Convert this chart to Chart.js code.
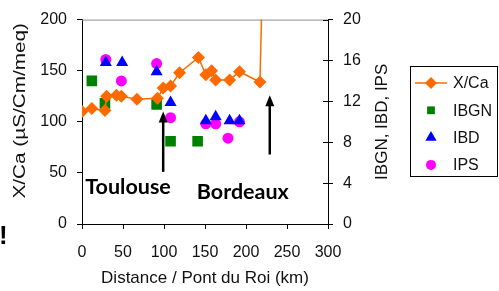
<!DOCTYPE html>
<html>
<head>
<meta charset="utf-8">
<script src="https://cdn.jsdelivr.net/npm/chart.js@4.4.1/dist/chart.umd.min.js"></script>
<style>
html, body { margin: 0; padding: 0; background: #fff; }
canvas { display: block; }
</style>
</head>
<body>
<canvas id="chart" width="499" height="291"></canvas>
<script>
// X/Ca along the river (left axis), last point runs off the top
const xcaDist = [0, 12, 28, 30, 42, 48, 67, 92, 99, 108, 119, 142, 151, 158, 163, 180, 192, 217, 225];
const xcaVal = [110, 113, 111, 125, 126, 125, 122, 123, 133, 135, 148, 163, 146, 150, 141, 141, 149, 139, 400];

// biological indices (right axis)
const ibgnDist = [12, 28, 91, 108, 141];
const ibgnVal = [14.0, 11.8, 11.7, 8.1, 8.1];
const ibdDist = [29, 49, 91, 108, 151, 163, 180, 192];
const ibdVal = [15.8, 15.8, 14.9, 11.9, 10.1, 10.5, 10.1, 10.1];
const ipsDist = [29, 48, 91, 108, 151, 163, 178, 192];
const ipsVal = [16.1, 14.0, 15.7, 10.4, 9.8, 9.8, 8.4, 10.0];

const xTicks = [0, 50, 100, 150, 200, 250, 300];
const leftTicks = [0, 50, 100, 150, 200];
const rightTicks = [0, 4, 8, 12, 16, 20];

// annotations, in data units (x km, left axis)
const arrows = [{x: 99, from: 51, to: 110}, {x: 229, from: 68, to: 126}];
const cities = [{text: 'Toulouse', x: 4, y: 29}, {text: 'Bordeaux', x: 140, y: 24}];

const FONT = "'Liberation Sans', Arial, sans-serif";

function pts(xs, ys) {
    return xs.map(function (x, i) { return {x: x, y: ys[i]}; });
}

const extras = {
    id: 'extras',
    afterDatasetsDraw: function (chart) {
        const ctx = chart.ctx;
        const xs = chart.scales.x, ys = chart.scales.y;
        const area = chart.chartArea;
        ctx.save();
        // top frame line
        ctx.strokeStyle = '#8c8c8c';
        ctx.lineWidth = 1;
        ctx.beginPath();
        ctx.moveTo(area.left, area.top + 0.5);
        ctx.lineTo(area.right, area.top + 0.5);
        ctx.stroke();
        // inner half of right axis ticks
        ctx.strokeStyle = '#000';
        chart.scales.y1.ticks.forEach(function (t) {
            const py = Math.round(chart.scales.y1.getPixelForValue(t.value)) + 0.5;
            ctx.beginPath();
            ctx.moveTo(area.right - 5, py);
            ctx.lineTo(area.right, py);
            ctx.stroke();
        });
        // arrows
        ctx.fillStyle = '#000';
        arrows.forEach(function (a) {
            const px = xs.getPixelForValue(a.x);
            const y0 = ys.getPixelForValue(a.from);
            const y1 = ys.getPixelForValue(a.to);
            ctx.lineWidth = 2.5;
            ctx.beginPath();
            ctx.moveTo(px, y0);
            ctx.lineTo(px, y1 + 8);
            ctx.stroke();
            ctx.beginPath();
            ctx.moveTo(px, y1);
            ctx.lineTo(px - 4.5, y1 + 11);
            ctx.lineTo(px + 4.5, y1 + 11);
            ctx.closePath();
            ctx.fill();
        });
        // city names
        ctx.font = "bold 21.5px Lato, 'Open Sans', sans-serif";
        ctx.textBaseline = 'alphabetic';
        ctx.textAlign = 'left';
        cities.forEach(function (c) {
            ctx.fillText(c.text, xs.getPixelForValue(c.x), ys.getPixelForValue(c.y));
        });
        // stray character at the left edge
        ctx.font = 'bold 26px ' + FONT;
        ctx.fillText('!', -1, 244);

        // axis titles (both read bottom to top)
        const midY = (area.top + area.bottom) / 2;
        ctx.font = '17px ' + FONT;
        ctx.fillStyle = '#111';
        ctx.textAlign = 'center';
        ctx.textBaseline = 'middle';
        [[20, midY - 11, 1.22, 'X/Ca (\u00b5S/Cm/meq)'], [382, midY, 1, 'IBGN, IBD, IPS']].forEach(function (t) {
            ctx.save();
            ctx.translate(t[0], t[1]);
            ctx.rotate(-Math.PI / 2);
            ctx.scale(t[2], 1);
            ctx.fillText(t[3], 0, 0);
            ctx.restore();
        });

        // legend box
        ctx.strokeStyle = '#000';
        ctx.lineWidth = 1;
        ctx.strokeRect(410.5, 66.5, 87, 110);
        ctx.font = '16px ' + FONT;
        ctx.textAlign = 'left';
        ctx.textBaseline = 'middle';
        const legendR = [6, 5.5, 6.5, 5];
        chart.data.datasets.forEach(function (ds, i) {
            const cy = 83 + i * 27.3;
            if (ds.showLine) {
                ctx.strokeStyle = ds.borderColor;
                ctx.lineWidth = 1.5;
                ctx.beginPath();
                ctx.moveTo(415, cy);
                ctx.lineTo(447, cy);
                ctx.stroke();
            }
            ctx.fillStyle = ds.pointBackgroundColor;
            Chart.helpers.drawPoint(ctx, {pointStyle: ds.pointStyle, radius: legendR[i], rotation: 0, borderWidth: 0}, 431, cy);
            ctx.fillStyle = '#111';
            ctx.fillText(ds.label, 453, cy + 1);
        });
        ctx.restore();
    }
};

const tickFont = {family: FONT, size: 16};

new Chart(document.getElementById('chart').getContext('2d'), {
    type: 'scatter',
    data: {
        datasets: [{
            label: 'X/Ca',
            data: pts(xcaDist, xcaVal),
            yAxisID: 'y',
            showLine: true,
            borderColor: '#ff6a00',
            borderWidth: 1.5,
            pointStyle: 'rectRot',
            pointRadius: 6.5,
            pointBorderWidth: 0,
            pointBackgroundColor: '#ff6a00'
        }, {
            label: 'IBGN',
            data: pts(ibgnDist, ibgnVal),
            yAxisID: 'y1',
            pointStyle: 'rect',
            pointRadius: 7.5,
            pointBorderWidth: 0,
            pointBackgroundColor: '#008000'
        }, {
            label: 'IBD',
            data: pts(ibdDist, ibdVal),
            yAxisID: 'y1',
            pointStyle: 'triangle',
            pointRadius: 7,
            pointBorderWidth: 0,
            pointBackgroundColor: '#0000ff'
        }, {
            label: 'IPS',
            data: pts(ipsDist, ipsVal),
            yAxisID: 'y1',
            pointStyle: 'circle',
            pointRadius: 5.5,
            pointBorderWidth: 0,
            pointBackgroundColor: '#ff00ff'
        }]
    },
    options: {
        responsive: false,
        animation: false,
        devicePixelRatio: 1,
        layout: {padding: {top: 18, left: 0, right: 0, bottom: 0}},
        plugins: {legend: {display: false}, tooltip: {enabled: false}},
        scales: {
            x: {
                type: 'linear',
                min: xTicks[0],
                max: xTicks[xTicks.length - 1],
                ticks: {stepSize: xTicks[1] - xTicks[0], font: tickFont, color: '#111', padding: 14, maxRotation: 0},
                grid: {drawOnChartArea: false, tickLength: 5, tickColor: '#000'},
                border: {color: '#000'},
                title: {display: true, text: 'Distance / Pont du Roi (km)', font: {family: FONT, size: 17}, color: '#111', padding: {top: 0, bottom: 2}},
                afterFit: function (s) { s.height = 67; }
            },
            y: {
                position: 'left',
                min: leftTicks[0],
                max: leftTicks[leftTicks.length - 1],
                ticks: {stepSize: leftTicks[1] - leftTicks[0], font: tickFont, color: '#111', padding: 10},
                grid: {drawOnChartArea: false, tickLength: 5, tickColor: '#000'},
                border: {color: '#000'},
                afterFit: function (s) { s.width = 82; }
            },
            y1: {
                position: 'right',
                min: rightTicks[0],
                max: rightTicks[rightTicks.length - 1],
                ticks: {stepSize: rightTicks[1] - rightTicks[0], font: tickFont, color: '#111', padding: 10},
                grid: {drawOnChartArea: false, tickLength: 5, tickColor: '#000'},
                border: {color: '#000'},
                afterFit: function (s) { s.width = 171; }
            }
        }
    },
    plugins: [extras]
});
</script>
</body>
</html>
